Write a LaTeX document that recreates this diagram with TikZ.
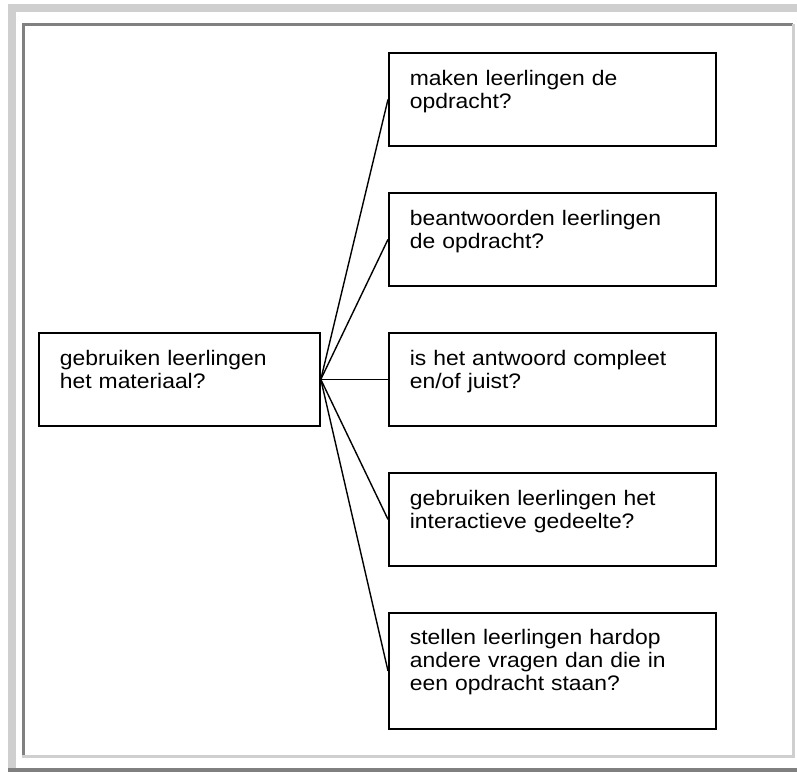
\documentclass[tikz,border=0pt]{standalone}
\usepackage{fontspec}
\setmainfont{Liberation Sans}[FakeStretch=1.09]
\begin{document}
\begin{tikzpicture}[x=1pt,y=-1pt,
  framelight/.style={fill=black!19},
  framedark/.style={fill=black!50},
  qbox/.style={draw=black,line width=1.8pt,rectangle,anchor=north west,
    inner xsep=21pt,inner ysep=0pt,align=left,text height=33pt,
    font=\fontsize{21}{23}\selectfont},
  link/.style={draw=black,line width=1.4pt}]
\useasboundingbox (0,0) rectangle (797,772);
% outer ridge frame
\fill[framelight] (8,4) rectangle (797,12);
\fill[framelight] (8,4) rectangle (16,768);
\fill[framedark] (8,768) rectangle (797,772);
% inner sunken frame
\fill[framedark] (22,23) rectangle (793,25.5);
\fill[framedark] (22,23) rectangle (25,755);
\fill[framelight] (22,755) rectangle (795,758);
\fill[framelight] (792,23.5) rectangle (795,758);
% question boxes
\node[qbox,text width=239pt,text depth=60pt] (main) at (38,332)
  {gebruiken leerlingen\\het materiaal?};
\node[qbox,text width=285pt,text depth=60pt] (q1) at (388,52)
  {maken leerlingen de\\opdracht?};
\node[qbox,text width=285pt,text depth=60pt] (q2) at (388,192)
  {beantwoorden leerlingen\\de opdracht?};
\node[qbox,text width=285pt,text depth=60pt] (q3) at (388,332)
  {is het antwoord compleet\\en/of juist?};
\node[qbox,text width=285pt,text depth=60pt] (q4) at (388,472)
  {gebruiken leerlingen het\\interactieve gedeelte?};
\node[qbox,text width=285pt,text depth=84.5pt,text height=31.5pt] (q5) at (388,612)
  {stellen leerlingen hardop\\andere vragen dan die in\\een opdracht staan?};
% connectors fanning out from the main question
\foreach \q in {q1,q2,q3,q4,q5}
  \draw[link] (main.east) -- (\q.west);
\end{tikzpicture}
\end{document}
